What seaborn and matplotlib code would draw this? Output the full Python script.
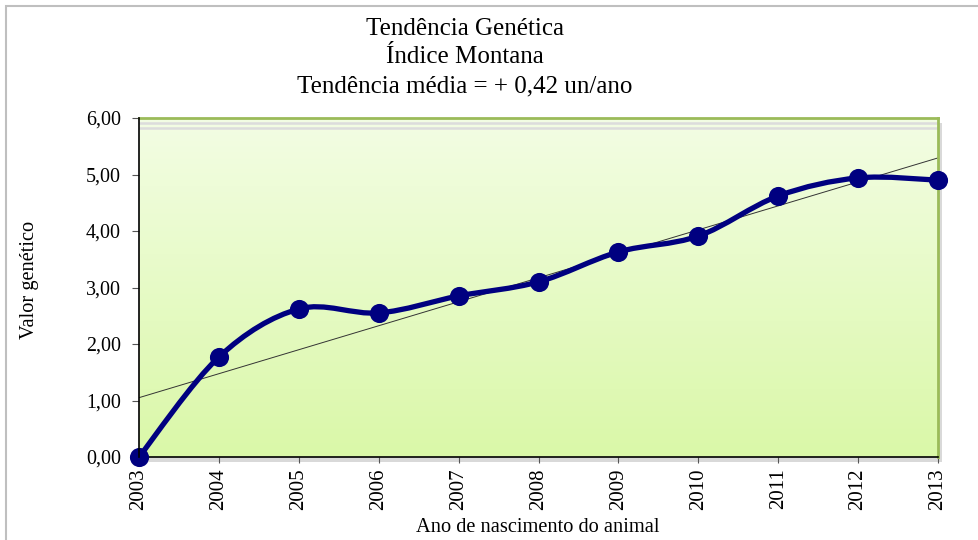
import matplotlib
matplotlib.use("Agg")
import matplotlib.pyplot as plt
import seaborn as sns
import numpy as np
import pandas as pd
from matplotlib.path import Path
from matplotlib.patches import PathPatch, Rectangle
from matplotlib.colors import LinearSegmentedColormap

# --- data ---
anos = [2003, 2004, 2005, 2006, 2007, 2008, 2009, 2010, 2011, 2012, 2013]
valor_genetico = [0.00, 1.77, 2.62, 2.55, 2.85, 3.10, 3.63, 3.91, 4.62, 4.94, 4.90]
titulo = ["Tendência Genética", "Índice Montana", "Tendência média = + 0,42 un/ano"]
y_ticks = [0, 1, 2, 3, 4, 5, 6]

sns.set_theme(style="white")
plt.rcParams['font.family'] = ['Liberation Serif', 'DejaVu Serif']
plt.rcParams.update({'text.color': 'black', 'xtick.color': 'black', 'ytick.color': 'black'})

df = pd.DataFrame({"pos": np.arange(len(anos)), "ano": anos, "valor": valor_genetico})

W, H = 979, 540
fig = plt.figure(figsize=(W / 100, H / 100), dpi=100)
fig.patch.set_facecolor("white")

# outer chart border (only left/top visible in the crop)
fig.patches.append(Rectangle((6 / W, -0.1), 1.2, (540 - 6) / H + 0.1, transform=fig.transFigure,
                             facecolor="none", edgecolor="#BFBFBF", lw=1.5, zorder=-2))

left, right, top, bottom = 139, 938, 118, 457

# drop shadow of plot area
fig.patches.append(Rectangle(((left + 4) / W, 1 - (bottom + 5) / H), (right - left) / W,
                             (bottom - top) / H, transform=fig.transFigure,
                             facecolor="#D9D9D9", edgecolor="none", zorder=-1))

ax = fig.add_axes([left / W, 1 - bottom / H, (right - left) / W, (bottom - top) / H])
ax.set_zorder(2)

# gradient background
cmap = LinearSegmentedColormap.from_list("g", ["#DAF8A8", "#F3FDE4"])
ax.imshow(np.linspace(0, 1, 256).reshape(-1, 1), extent=[0, 10, 0, 6], origin="lower",
          aspect="auto", cmap=cmap, zorder=0)

# faint lines just under the top edge
for yv in [5.92, 5.82]:
    ax.axhline(yv, color="#DCDCDC", lw=1.8, zorder=1)

# trend line (least squares, like Excel)
sns.regplot(data=df, x="pos", y="valor", ax=ax, scatter=False, ci=None,
            line_kws=dict(color="#333333", lw=0.7, zorder=2))

# smoothed series line (Catmull-Rom style bezier, as Excel draws it)
pts = df[["pos", "valor"]].to_numpy()
verts = [pts[0]]
codes = [Path.MOVETO]
n = len(pts)
for i in range(n - 1):
    p0 = pts[max(i - 1, 0)]
    p1 = pts[i]
    p2 = pts[i + 1]
    p3 = pts[min(i + 2, n - 1)]
    c1 = p1 + (p2 - p0) / 6
    c2 = p2 - (p3 - p1) / 6
    verts += [c1, c2, p2]
    codes += [Path.CURVE4] * 3
ax.add_patch(PathPatch(Path(verts, codes), facecolor="none", edgecolor="#000080",
                       lw=3.8, zorder=3, capstyle="round", joinstyle="round", clip_on=False))

sns.scatterplot(data=df, x="pos", y="valor", ax=ax, color="#000080", s=190,
                edgecolor="#000080", linewidth=0, zorder=4, clip_on=False)

ax.set_xlim(0, 10)
ax.set_ylim(0, 6)
ax.set_xticks(df["pos"])
ax.set_xticklabels([str(a) for a in anos], rotation=90, fontsize=15)
ax.set_yticks(y_ticks)
ax.set_yticklabels([f"{v:.2f}".replace(".", ",") for v in y_ticks], fontsize=14.4)
ax.tick_params(axis="y", direction="out", length=5, width=0.8, color="#555555", pad=8, left=True)
ax.tick_params(axis="x", direction="out", length=4, width=0.8, color="#555555", pad=4, bottom=True)
ax.set_xlabel("")
ax.set_ylabel("")

for s in ["top", "right"]:
    ax.spines[s].set_color("#9BBB59")
    ax.spines[s].set_linewidth(2)
for s in ["left", "bottom"]:
    ax.spines[s].set_color("#000000")
    ax.spines[s].set_linewidth(1.2)
ax.spines["left"].set_zorder(5)

for linha, yb in zip(titulo, [35, 63, 92]):
    fig.text(465 / W, 1 - yb / H, linha, ha="center", va="baseline", fontsize=18)
fig.text(30 / W, 1 - 280 / H, "Valor genético", ha="center", va="center", rotation=90, fontsize=14.7)
fig.text(538 / W, 1 - 528 / H, "Ano de nascimento do animal", ha="center", va="center", fontsize=14.7)

fig.savefig("out.png", dpi=100)
